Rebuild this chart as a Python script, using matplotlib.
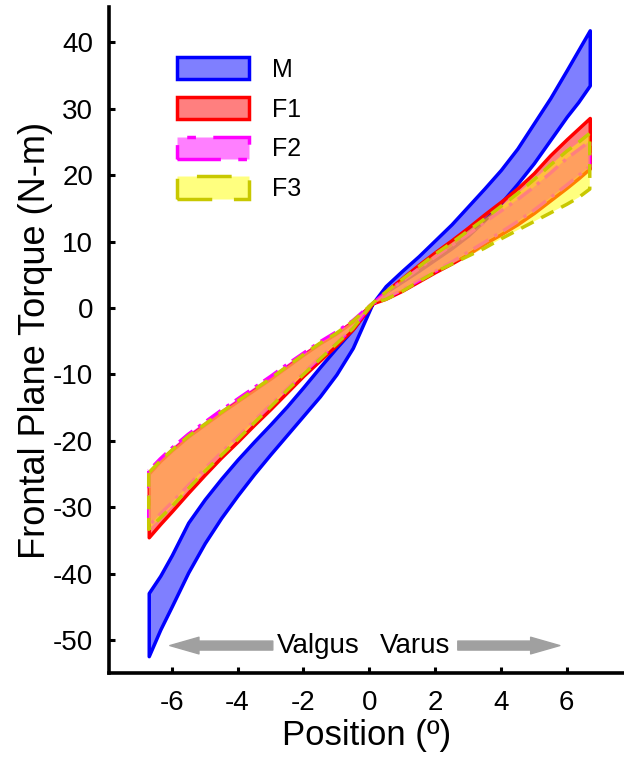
import numpy as np
import matplotlib
matplotlib.use('Agg')
import matplotlib.pyplot as plt
from matplotlib.colors import to_rgba

plt.rcParams['font.family'] = ['Liberation Sans', 'DejaVu Sans']

# knee position (deg) and torque band limits (N-m)
pos = [-6.7, -6.35, -6, -5.5, -5, -4.5, -4, -3.5, -3, -2.5, -2, -1.5, -1, -0.5, 0.1,
       0.5, 1, 1.5, 2, 2.5, 3, 3.5, 4, 4.5, 5, 5.5, 6, 6.35, 6.7]

m_hi = [-42.9, -40.3, -37.2, -32.3, -28.8, -25.7, -22.8, -20.1, -17.5, -14.8, -11.9, -8.9, -6.0, -3.2, 0.7,
        3.3, 5.6, 7.8, 10.2, 12.6, 15.3, 18.0, 20.8, 24.0, 27.8, 31.6, 35.8, 38.8, 41.8]
m_lo = [-52.4, -48.4, -44.9, -39.8, -35.4, -31.6, -28.2, -25.0, -22.0, -19.1, -16.2, -13.3, -10.0, -6.0, 0.7,
        2.4, 4.0, 5.6, 7.3, 9.0, 10.9, 13.2, 15.8, 18.7, 21.8, 25.3, 28.8, 31.0, 33.5]

f1_hi = [-24.9, -23.0, -21.4, -19.3, -17.5, -15.7, -14.0, -12.3, -10.6, -8.8, -7.0, -5.3, -3.8, -2.0, 0.7,
         2.5, 4.5, 6.5, 8.4, 10.2, 12.1, 14.1, 16.0, 18.0, 20.3, 23.0, 25.4, 27.0, 28.6]
f1_lo = [-34.5, -32.5, -30.6, -27.8, -25.1, -22.5, -20.1, -17.6, -15.2, -12.7, -10.2, -7.9, -5.6, -3.2, 0.7,
         1.4, 2.6, 4.0, 5.4, 6.7, 8.1, 9.7, 11.1, 12.6, 14.3, 16.2, 18.1, 19.5, 21.0]

f2_hi = [-24.5, -22.7, -21.1, -19.0, -17.2, -15.4, -13.7, -12.0, -10.3, -8.5, -6.8, -5.1, -3.6, -1.9, 0.7,
         2.3, 4.1, 5.9, 7.7, 9.4, 11.1, 12.9, 14.6, 16.3, 18.2, 20.3, 22.5, 23.8, 25.1]
f2_lo = [-32.8, -31.0, -29.3, -26.7, -24.2, -21.8, -19.4, -17.0, -14.6, -12.2, -9.8, -7.5, -5.3, -3.0, 0.7,
         1.5, 2.7, 4.1, 5.5, 6.9, 8.4, 9.9, 11.4, 13.0, 14.7, 16.6, 18.5, 19.9, 21.3]

f3_hi = [-24.8, -23.0, -21.4, -19.3, -17.5, -15.7, -14.0, -12.3, -10.6, -8.8, -7.0, -5.3, -3.8, -2.0, 0.7,
         2.4, 4.3, 6.2, 8.1, 9.8, 11.6, 13.4, 15.3, 17.2, 19.3, 21.5, 23.6, 24.9, 26.3]
f3_lo = [-33.3, -31.6, -29.9, -27.2, -24.6, -22.2, -19.8, -17.3, -14.9, -12.4, -10.0, -7.7, -5.4, -3.1, 0.7,
         1.3, 2.5, 4.0, 5.4, 6.6, 7.8, 9.0, 10.4, 11.7, 13.0, 14.3, 15.6, 16.6, 17.9]

labels = ['M', 'F1', 'F2', 'F3']
face = ['#0000ff', '#ff0000', '#ff00ff', '#ffff00']
edge = ['#0000ff', '#ff0000', '#ff00ff', '#c8c800']
styles = ['-', '-', (0, (5, 2, 1, 2)), (0, (4, 2.5))]

xticks = [-6, -4, -2, 0, 2, 4, 6]
yticks = [40, 30, 20, 10, 0, -10, -20, -30, -40, -50]

fig = plt.figure(figsize=(6.24, 7.66), dpi=100)
ax = fig.add_axes([0.174, 0.1208, 0.826, 0.870])

bands = [(m_lo, m_hi), (f1_lo, f1_hi), (f2_lo, f2_hi), (f3_lo, f3_hi)]
for (lo, hi), lab, fc, ec, ls in zip(bands, labels, face, edge, styles):
    ax.fill_between(pos, lo, hi, facecolor=to_rgba(fc, 0.5), edgecolor=ec,
                    linewidth=2.5, linestyle=ls, label=lab)

ax.set_xlim(-7.92, 7.74)
ax.set_ylim(-55.0, 45.3)
ax.set_xticks(xticks)
ax.set_yticks(yticks)
ax.set_xticklabels([str(t) for t in xticks])
ax.set_yticklabels([str(t) for t in yticks])

for s in ['top', 'right']:
    ax.spines[s].set_visible(False)
for s in ['left', 'bottom']:
    ax.spines[s].set_linewidth(2.6)
ax.tick_params(axis='both', direction='in', length=4, width=2.2, labelsize=20)
ax.tick_params(axis='x', pad=12)
ax.tick_params(axis='y', pad=11)

ax.set_xlabel('Position (º)', fontsize=25, labelpad=2)
ax.set_ylabel('Frontal Plane Torque (N-m)', fontsize=26, labelpad=0)

# direction arrows
arrow = dict(arrowstyle='simple,head_length=2.1,head_width=1.2,tail_width=0.65',
             color='#a0a0a0', mutation_scale=10, shrinkA=0, shrinkB=0)
ax.annotate('', xy=(-6.06, -50.8), xytext=(-2.93, -50.8), arrowprops=arrow)
ax.annotate('', xy=(5.79, -50.8), xytext=(2.69, -50.8), arrowprops=arrow)
ax.text(-0.29, -50.8, 'Valgus', fontsize=20, ha='right', va='center')
ax.text(0.32, -50.8, 'Varus', fontsize=20, ha='left', va='center')

ax.legend(loc='upper left', bbox_to_anchor=(0.132, 0.925), frameon=False,
          fontsize=18, handlelength=2.9, handleheight=1.0, labelspacing=0.6,
          handletextpad=0.9, borderpad=0, borderaxespad=0)

fig.savefig('out.png', dpi=100)
